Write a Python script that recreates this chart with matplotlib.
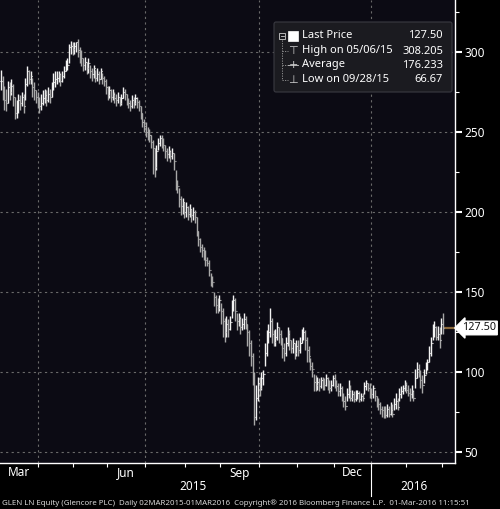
#!/usr/bin/env python3
# GLEN LN daily bars, Bloomberg style
import numpy as np
import pandas as pd
import matplotlib
matplotlib.use("Agg")
import matplotlib.pyplot as plt
from matplotlib.lines import Line2D
from matplotlib.patches import Rectangle, FancyBboxPatch

plt.rcParams['font.family'] = ['Noto Sans', 'DejaVu Sans']

# %% data (one value per trading day)
holidays = ['2015-04-03', '2015-04-06', '2015-05-04', '2015-05-25',
            '2015-08-31', '2015-12-25', '2015-12-28', '2016-01-01']
days = pd.bdate_range('2015-03-02', '2016-03-01')
days = days[~days.isin(pd.to_datetime(holidays))]

close = [282, 276, 270, 268, 278, 275, 279, 272, 262, 266,
         270, 268, 272, 266, 280, 288, 283, 285, 278, 276,
         272, 270, 266, 268, 271, 273, 270, 274, 272, 277,
         281, 283, 284, 286, 282, 285, 288, 291, 292, 303,
         304, 302, 304, 306, 301, 300, 296, 292, 294, 290,
         293, 288, 286, 290, 284, 286, 283, 288, 284, 282,
         278, 273, 276, 272, 274, 271, 270, 272, 268, 271,
         275, 274, 270, 268, 266, 270, 268, 271, 269, 266,
         262, 256, 254, 250, 249, 248, 244, 240, 228, 238,
         243, 246, 244, 242, 238, 236, 238, 235, 237, 232,
         218, 216, 208, 204, 206, 200, 203, 199, 202, 198,
         200, 197, 188, 183, 178, 176, 174, 170, 168, 164,
         158, 156, 147, 142, 140, 145, 138, 132, 125, 130,
         127, 131, 140, 145, 138, 132, 134, 128, 130, 133,
         130, 125, 118, 110, 98, 72, 84, 93, 90, 96,
         99, 112, 120, 125, 132, 124, 119, 122, 128, 124,
         121, 115, 112, 118, 124, 120, 115, 118, 112, 116,
         114, 118, 124, 125, 120, 114, 110, 104, 102, 94,
         92, 94, 91, 95, 93, 92, 96, 93, 90, 92,
         96, 94, 91, 88, 90, 86, 82, 79, 86, 88,
         84, 86, 83, 85, 87, 83, 85, 84, 91, 93,
         90, 88, 86, 90, 85, 82, 80, 77, 76, 75,
         73, 77, 74, 76, 74, 80, 82, 78, 86, 88,
         90, 92, 89, 87, 86, 88, 84, 96, 102, 99,
         95, 92, 98, 103, 106, 112, 118, 126, 128, 122,
         124, 120, 130, 127.5]
high = [289, 285, 279, 277, 282, 281, 283, 280, 272, 270,
        274, 273, 275, 274, 284, 291, 289, 288, 284, 281,
        276, 275, 272, 274, 276, 277, 276, 278, 277, 281,
        287, 288, 288, 288, 287, 288, 291, 295, 296, 305,
        307, 306, 306, 306, 308.205, 303, 301, 296, 297, 294,
        296, 292, 290, 292, 289, 290, 288, 290, 287, 285,
        283, 279, 279, 277, 277, 275, 274, 275, 272, 274,
        278, 277, 274, 271, 270, 273, 272, 274, 272, 270,
        266, 262, 258, 256, 253, 252, 248, 245, 240, 242,
        246, 248, 248, 246, 242, 240, 241, 239, 240, 237,
        226, 220, 215, 210, 209, 206, 206, 204, 205, 202,
        203, 201, 197, 188, 184, 180, 178, 176, 172, 170,
        162, 160, 150, 148, 146, 148, 143, 140, 134, 135,
        133, 135, 145, 148, 146, 137, 137, 135, 134, 137,
        135, 130, 126, 120, 112, 100, 92, 97, 97, 100,
        101, 118, 126, 130, 140, 134, 126, 127, 131, 128,
        126, 121, 118, 122, 128, 126, 120, 121, 118, 120,
        120, 122, 127, 128, 126, 122, 116, 109, 106, 99,
        98, 97, 96, 97, 97, 96, 99, 97, 95, 95,
        98, 99, 95, 93, 93, 91, 87, 85, 90, 95,
        92, 89, 88, 89, 89, 88, 87, 87, 94, 95,
        93, 93, 90, 92, 89, 85, 84, 81, 79, 79,
        79, 80, 79, 81, 80, 84, 87, 84, 90, 91,
        92, 95, 94, 92, 90, 92, 89, 102, 106, 105,
        101, 98, 102, 106, 108, 116, 122, 130, 132, 129,
        129, 128, 134, 137]
low = [276, 270, 264, 263, 268, 270, 273, 266, 258, 259,
       262, 264, 266, 262, 270, 279, 280, 280, 272, 270,
       268, 265, 262, 264, 267, 268, 266, 269, 268, 272,
       276, 278, 280, 281, 279, 281, 284, 288, 289, 293,
       299, 298, 299, 300, 297, 293, 291, 288, 289, 286,
       287, 284, 282, 284, 281, 282, 280, 283, 280, 279,
       274, 270, 271, 269, 270, 268, 266, 268, 266, 267,
       271, 270, 267, 265, 263, 265, 265, 267, 265, 263,
       258, 253, 250, 247, 245, 244, 240, 224, 222, 226,
       239, 241, 240, 238, 234, 232, 234, 231, 233, 226,
       214, 212, 203, 198, 199, 196, 197, 195, 197, 194,
       195, 193, 185, 179, 175, 172, 170, 166, 166, 160,
       154, 153, 141, 137, 137, 138, 130, 122, 119, 122,
       122, 126, 134, 138, 132, 126, 129, 124, 126, 127,
       127, 116, 110, 104, 92, 66.67, 70, 82, 85, 89,
       92, 104, 110, 118, 122, 118, 116, 116, 120, 118,
       117, 109, 107, 110, 116, 114, 112, 112, 108, 110,
       110, 112, 118, 120, 114, 106, 106, 101, 97, 88,
       88, 89, 88, 90, 89, 89, 91, 89, 87, 88,
       91, 90, 88, 85, 85, 82, 78, 76, 82, 84,
       82, 82, 81, 82, 83, 81, 82, 82, 86, 89,
       88, 84, 83, 84, 82, 78, 76, 74, 72, 71,
       71, 72, 72, 73, 72, 76, 77, 76, 82, 84,
       86, 88, 87, 85, 82, 84, 82, 90, 96, 97,
       90, 87, 93, 99, 101, 106, 110, 120, 122, 120,
       120, 115, 124, 124]

month_labels = ['Mar', 'Jun', 'Sep', 'Dec']
year_labels = ['2015', '2016']
legend_rows = [('Last Price', '127.50'), ('High on 05/06/15', '308.205'),
               ('Average', '176.233'), ('Low on 09/28/15', '66.67')]
last_price = 127.50
footer = ("GLEN LN Equity (Glencore PLC)  Daily 02MAR2015-01MAR2016  "
          "Copyright\u00ae 2016 Bloomberg Finance L.P.  01-Mar-2016 11:15:51")

close = np.array(close, dtype=float)
high = np.array(high, dtype=float)
low = np.array(low, dtype=float)
opn = np.r_[close[0], close[:-1]]
idx = np.arange(len(days))

# %% figure
W, H = 500, 509
fig = plt.figure(figsize=(W / 100, H / 100), dpi=100, facecolor='black')
ax_h = 463
ax = fig.add_axes([0, (H - ax_h) / H, 455 / W, ax_h / H])
ax.set_facecolor('#0c0b14')

ax.set_xlim(-0.5, 259.8)
ax.set_ylim(43.1, 332.5)

# grid
for v in range(50, 301, 50):
    ax.axhline(v, color='#6a6a6a', lw=0.8, ls=(0, (2, 3)), zorder=1)
months = pd.Series(idx, index=days)
firsts = months.groupby([days.year, days.month]).first()
for (yr, mo), i in firsts.items():
    if mo in (4, 7, 10, 1):
        ax.axvline(i - 0.5, color='#6a6a6a', lw=0.8, ls=(0, (2, 3)), zorder=1)

# bars
up = close >= opn
cols = np.where(up, '#f2f2f2', '#a8a8a8')
ax.vlines(idx, low, high, colors=cols, lw=1.0, zorder=3)
ax.hlines(opn, idx - 0.6, idx, colors=cols, lw=0.8, zorder=3)
ax.hlines(close, idx, idx + 0.6, colors=cols, lw=0.8, zorder=3)

# last price line and tag
ax.hlines(last_price, idx[-1] + 0.6, 259.8, color='#8c6a3c', lw=1.6, zorder=2)
ax.annotate('127.50', xy=(1.0, last_price), xycoords=('axes fraction', 'data'),
            xytext=(5, 0), textcoords='offset points', ha='left', va='center',
            fontsize=7.8, color='#111111',
            bbox=dict(boxstyle='larrow,pad=0.12', fc='white', ec='white'))

# axes styling
for s in ['left', 'top']:
    ax.spines[s].set_visible(False)
for s in ['right', 'bottom']:
    ax.spines[s].set_color('white')
    ax.spines[s].set_linewidth(1.0)
ax.yaxis.tick_right()
ax.set_yticks(range(50, 301, 50))
ax.set_yticks(range(75, 330, 50), minor=True)
ax.tick_params(axis='y', which='major', colors='white', labelsize=8.5,
               length=5, width=1.5, pad=2)
ax.tick_params(axis='y', which='minor', colors='white', length=3, width=0.8)
ax.set_xticks([i - 0.5 for i in firsts.values][1:])
ax.set_xticklabels([])
ax.tick_params(axis='x', colors='white', length=3, width=0.8)

# month and year labels (pixel rows of the reference)
xt = ax.get_xaxis_transform()
for (yr, mo), i in list(firsts.items())[:-1]:
    name = pd.Timestamp(year=yr, month=mo, day=1).strftime('%b')
    if name in month_labels:
        n = (months.index.month == mo) & (months.index.year == yr)
        c = idx[n].mean()
        ax.text(c, -10 / ax_h, name, transform=xt,
                ha='center', va='center', color='white', fontsize=8.5)
jan = firsts[(2016, 1)] - 0.5
ax.plot([jan, jan], [0, -33 / ax_h], transform=xt,
        color='white', lw=0.8, clip_on=False)
ax.text(firsts[(2015, 8)] + 4, -24 / ax_h, year_labels[0], transform=xt,
        ha='center', va='center', color='white', fontsize=8.5)
ax.text(jan + 25, -24 / ax_h, year_labels[1], transform=xt,
        ha='center', va='center', color='white', fontsize=8.5)

fig.text(2 / W, 1 - 503 / H, footer, color='#d8d8d8', fontsize=5.7,
         ha='left', va='center')

# legend box
def fx(px):
    return px / W

def fy(py):
    return 1 - py / H

box = FancyBboxPatch((fx(274), fy(92)), fx(452) - fx(274), fy(22) - fy(92),
                     boxstyle='round,pad=0,rounding_size=0.004',
                     transform=fig.transFigure, fc='#1b1b20', ec='#3a3a42',
                     lw=0.8, zorder=5)
fig.patches.append(box)
row_y = [36, 51, 65, 80]
tree = '#9a9a9a'
fig.lines.append(Line2D([fx(282), fx(282)], [fy(40), fy(80)], transform=fig.transFigure,
                        color=tree, lw=0.6, ls=(0, (1.5, 1.5)), zorder=6))
for ry in row_y[1:]:
    fig.lines.append(Line2D([fx(282), fx(288)], [fy(ry), fy(ry)], transform=fig.transFigure,
                            color=tree, lw=0.6, ls=(0, (1.5, 1.5)), zorder=6))
fig.patches.append(Rectangle((fx(279), fy(39)), fx(6), fy(0) - fy(6), transform=fig.transFigure,
                             fc='#1b1b20', ec='#cfcfcf', lw=0.6, zorder=6))
fig.lines.append(Line2D([fx(280.5), fx(283.5)], [fy(36), fy(36)], transform=fig.transFigure,
                        color='#cfcfcf', lw=0.6, zorder=7))
fig.patches.append(Rectangle((fx(288), fy(41)), fx(10), fy(0) - fy(10), transform=fig.transFigure,
                             fc='white', ec='white', lw=0.5, zorder=6))
icons = [None, '\u22a4', '+', '\u22a5']
for k, (lab, val) in enumerate(legend_rows):
    y = fy(row_y[k])
    if icons[k]:
        fig.text(fx(293), y, icons[k], color='#cfcfcf', fontsize=8, ha='center',
                 va='center', family='DejaVu Sans', zorder=7)
    if k == 2:
        fig.lines.append(Line2D([fx(288), fx(298)], [y, y], transform=fig.transFigure,
                                color='#cfcfcf', lw=0.6, zorder=7))
    fig.text(fx(302), y, lab, color='white', fontsize=8, ha='left', va='center', zorder=7)
    fig.text(fx(443), y, val, color='white', fontsize=8, ha='right', va='center', zorder=7)

fig.savefig('out.png', dpi=100, facecolor='black')
